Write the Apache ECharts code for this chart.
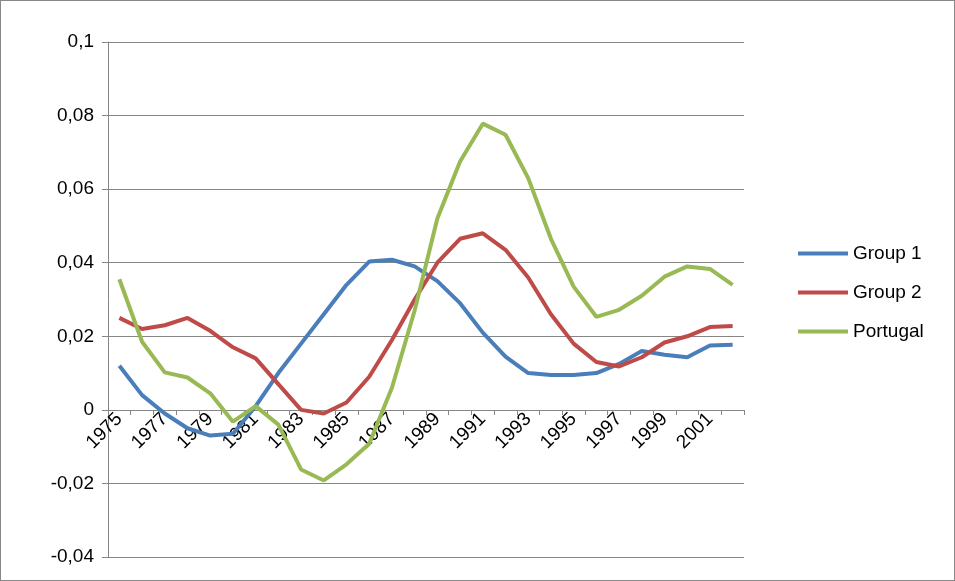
<!DOCTYPE html><html><head><meta charset="utf-8">
<script src="https://cdn.jsdelivr.net/npm/echarts@6/dist/echarts.min.js"></script>
<style>body{margin:0}#c{width:955px;height:581px;box-sizing:border-box;border:1px solid #888}</style></head><body><div id="c"></div>
<script>
const years=[];for(let y=1975;y<=2002;y++)years.push(String(y));
const group1=[0.012,0.004,-0.001,-0.005,-0.007,-0.0065,0.001,0.01,0.018,0.026,0.034,0.0403,0.0408,0.039,0.035,0.029,0.021,0.0145,0.010,0.0095,0.0095,0.010,0.0125,0.016,0.015,0.0143,0.0175,0.0177];
const group2=[0.025,0.022,0.023,0.025,0.0215,0.017,0.014,0.007,0.000,-0.001,0.002,0.009,0.019,0.030,0.040,0.0465,0.048,0.0435,0.036,0.026,0.018,0.013,0.0118,0.0143,0.0183,0.020,0.0225,0.0228];
const portugal=[0.0355,0.0185,0.0102,0.0088,0.0045,-0.0032,0.001,-0.004,-0.0162,-0.0192,-0.0148,-0.0092,0.006,0.027,0.052,0.0675,0.0778,0.0748,0.063,0.0465,0.0335,0.0253,0.0272,0.031,0.0362,0.039,0.0383,0.034];
const fmt=v=>String(v).replace('.',',');
const c=echarts.init(document.getElementById('c'));
const font='Liberation Sans';
const mk=(n,d,col)=>({name:n,type:'line',data:d,symbol:'none',lineStyle:{width:4,color:col},itemStyle:{color:col}});
c.setOption({
 textStyle:{fontFamily:font},
 grid:{left:107,right:210,top:41,bottom:23,containLabel:false,outerBoundsMode:'none'},
 legend:{orient:'vertical',left:792,top:238,itemGap:20,icon:'rect',itemWidth:50,itemHeight:4,textStyle:{fontSize:19,color:'#000',fontFamily:font},data:['Group 1','Group 2','Portugal']},
 xAxis:{type:'category',data:years,boundaryGap:true,offset:-147,axisLine:{onZero:false,lineStyle:{color:'#868686'}},axisTick:{show:true,interval:0,lineStyle:{color:'#868686'}},
  axisLabel:{interval:1,rotate:45,fontSize:19,color:'#000',margin:6,align:'right'}},
 yAxis:{type:'value',min:-0.04,max:0.1,interval:0.02,axisLine:{show:true,lineStyle:{color:'#868686'}},axisTick:{show:true,length:6,lineStyle:{color:'#868686'}},
  splitLine:{lineStyle:{color:'#868686'}},axisLabel:{fontSize:19,color:'#000',formatter:v=>fmt(+v.toFixed(2)),margin:14}},
 series:[mk('Group 1',group1,'#4a7ebb'),mk('Group 2',group2,'#be4b48'),mk('Portugal',portugal,'#98b954')]
});
</script></body></html>
